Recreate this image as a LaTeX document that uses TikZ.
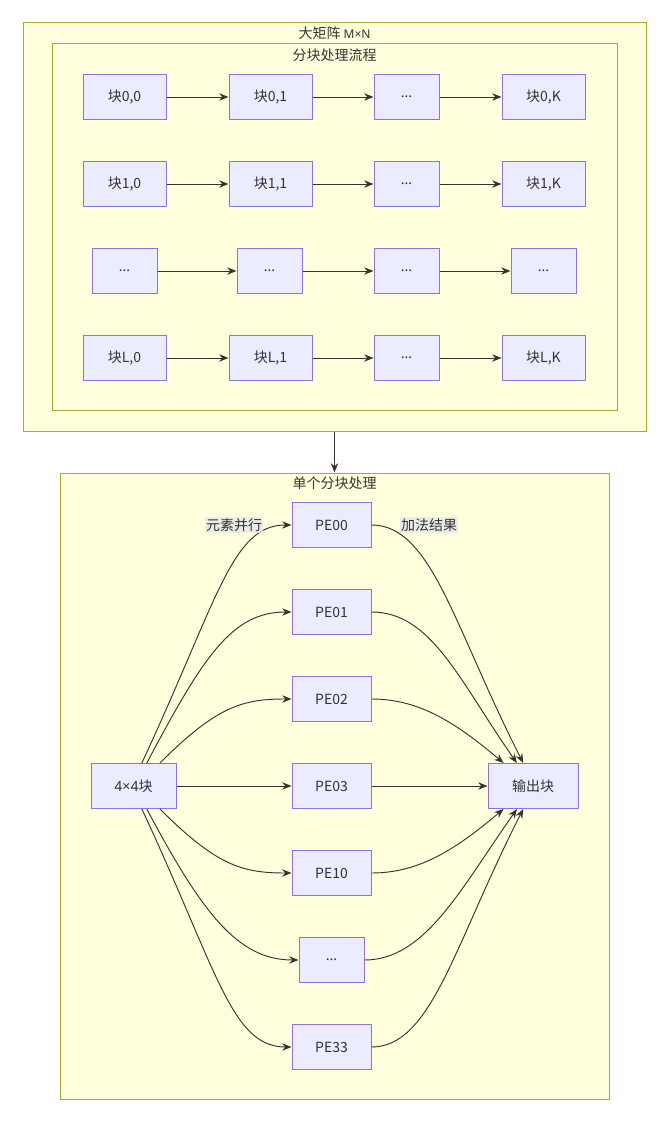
\documentclass[tikz,border=0pt]{standalone}
\usepackage{fontspec}
\setmainfont{Noto Sans CJK SC}
\newfontfamily\latin{Noto Sans}
\usepackage{tikz}
\usetikzlibrary{calc,arrows.meta}
\tikzset{>={Stealth[length=7pt,width=5.5pt]}}
\definecolor{boxfill}{HTML}{ECECFF}
\definecolor{boxline}{HTML}{9370DB}
\definecolor{clusterfill}{HTML}{FFFFDE}
\definecolor{clusterline}{HTML}{AAAA33}
\definecolor{edgecol}{HTML}{333333}
\definecolor{labelfill}{HTML}{E8E8E8}
\newcommand{\dotsx}{{\latin ...}}
\tikzset{
  txt/.style={font=\fontsize{10.5pt}{12pt}\selectfont, text=edgecol},
  block/.style={txt, draw=boxline, fill=boxfill, line width=0.75pt, minimum width=62.25pt, minimum height=33.75pt, inner sep=0pt},
  dots/.style={block, minimum width=48.75pt},
  pe/.style={block, minimum width=59.25pt},
  cluster/.style={draw=clusterline, fill=clusterfill, line width=0.75pt, inner sep=0pt},
  flow/.style={->, draw=edgecol, line width=0.7pt},
  elabel/.style={txt, fill=labelfill, fill opacity=0.8, text opacity=1, inner sep=1pt}
}

\begin{document}
\begin{tikzpicture}[x=0.75pt,y=-0.75pt]
        \useasboundingbox (0,0) rectangle (657,1126);

        % Clusters
        \node[cluster, minimum width=467.25pt, minimum height=306pt] at (334.5,227) (big) {};
        \node[txt] at (334.5,33) (bigtitle) {大矩阵 {\latin\small M×N}};
        \node[cluster, minimum width=423.75pt, minimum height=274.5pt] at (334.5,227) (tiling) {};
        \node[txt] at (334.5,55) (tilingtitle) {分块处理流程};
        \node[cluster, minimum width=411.75pt, minimum height=469.5pt] at (334.5,786) (single) {};
        \node[txt] at (334.5,483) (singletitle) {单个分块处理};
        \draw[flow] (big.south) -- (single.north);

        % Block grid
        \node[block] at (124.5, 97)  (b00) {块0,0};
        \node[block] at (270.5, 97)  (b01) {块0,1};
        \node[dots]  at (406.5, 97)  (b0d) {\dotsx};
        \node[block] at (543.5, 97)  (b0k) {块0,K};
        \node[block] at (124.5,184)  (b10) {块1,0};
        \node[block] at (270.5,184)  (b11) {块1,1};
        \node[dots]  at (406.5,184)  (b1d) {\dotsx};
        \node[block] at (543.5,184)  (b1k) {块1,K};
        \node[dots]  at (124.5,271)  (bd0) {\dotsx};
        \node[dots]  at (269.5,271)  (bd1) {\dotsx};
        \node[dots]  at (406.5,271)  (bdd) {\dotsx};
        \node[dots]  at (543.5,271)  (bdk) {\dotsx};
        \node[block] at (124.5,358)  (bl0) {块L,0};
        \node[block] at (270.5,358)  (bl1) {块L,1};
        \node[dots]  at (406.5,358)  (bld) {\dotsx};
        \node[block] at (543.5,358)  (blk) {块L,K};

        \draw[flow] (b00) -- (b01);
        \draw[flow] (b01) -- (b0d);
        \draw[flow] (b0d) -- (b0k);
        \draw[flow] (b10) -- (b11);
        \draw[flow] (b11) -- (b1d);
        \draw[flow] (b1d) -- (b1k);
        \draw[flow] (bd0) -- (bd1);
        \draw[flow] (bd1) -- (bdd);
        \draw[flow] (bdd) -- (bdk);
        \draw[flow] (bl0) -- (bl1);
        \draw[flow] (bl1) -- (bld);
        \draw[flow] (bld) -- (blk);

        % Single block processing
        \node[block, minimum width=63.75pt] at (133.5,786) (in) {{\latin 4×4}块};
        \node[block, minimum width=67.5pt]  at (533,786)   (out) {输出块};
        \node[pe]   at (331.5, 525) (pe00) {PE00};
        \node[pe]   at (331.5, 612) (pe01) {PE01};
        \node[pe]   at (331.5, 699) (pe02) {PE02};
        \node[pe]   at (331.5, 786) (pe03) {PE03};
        \node[pe]   at (331.5, 873) (pe10) {PE10};
        \node[dots] at (331.5, 960) (pedots) {\dotsx};
        \node[pe]   at (331.5,1047) (pe33) {PE33};

        % Fan out
        \draw[flow] (in.70)  to[out=65,in=180,out distance=135pt,in distance=45pt] (pe00.west);
        \draw[flow] (in.60)  to[out=62,in=180,out distance=90pt,in distance=45pt] (pe01.west);
        \draw[flow] (in.41)  to[out=45,in=180,out distance=60pt,in distance=37pt] (pe02.west);
        \draw[flow] (in.east) -- (pe03.west);
        \draw[flow] (in.-41) to[out=-45,in=180,out distance=60pt,in distance=37pt] (pe10.west);
        \draw[flow] (in.-60) to[out=-62,in=180,out distance=90pt,in distance=45pt] (pedots.west);
        \draw[flow] (in.-70) to[out=-65,in=180,out distance=135pt,in distance=45pt] (pe33.west);

        % Fan in
        \draw[flow] (pe00.east) to[out=0,in=117,out distance=45pt,in distance=115pt] (out.113);
        \draw[flow] (pe01.east) to[out=0,in=125,out distance=45pt,in distance=75pt] (out.125);
        \draw[flow] (pe02.east) to[out=0,in=140,out distance=37pt,in distance=45pt] (out.142);
        \draw[flow] (pe03.east) -- (out.west);
        \draw[flow] (pe10.east) to[out=0,in=-140,out distance=37pt,in distance=45pt] (out.-142);
        \draw[flow] (pedots.east) to[out=0,in=-125,out distance=45pt,in distance=75pt] (out.-125);
        \draw[flow] (pe33.east) to[out=0,in=-117,out distance=45pt,in distance=115pt] (out.-113);

        % Edge labels
        \node[elabel] at (234,525) (lpar) {元素并行};
        \node[elabel] at (429,525) (lsum) {加法结果};

      \end{tikzpicture}
\end{document}
